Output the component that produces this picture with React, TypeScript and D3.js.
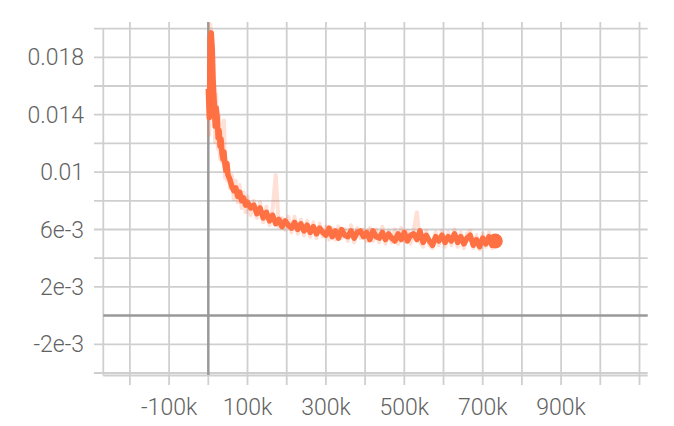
import React from "react";
import * as d3 from "d3";

const STEPS_K = [
  0, 2.5, 5, 7.5, 10, 12.5, 15, 17.5, 20, 22.5, 25, 27.5, 30, 32.5, 35, 37.5, 40, 42.5, 45, 47.5,
  50, 55, 60, 65, 70, 75, 80, 85, 90, 95, 100,
  108, 116, 124, 132, 140, 148, 156, 164, 172, 180, 188, 196, 204, 212, 220, 228, 236, 244, 252,
  260, 268, 276, 284, 292, 300, 308, 316, 324, 332, 340, 348, 356, 364, 372, 380, 388, 396, 404,
  412, 420, 428, 436, 444, 452, 460, 468, 476, 484, 492, 500, 508, 516, 524, 532, 540, 548, 556,
  564, 572, 580, 588, 596, 604, 612, 620, 628, 636, 644, 652, 660, 668, 676, 684, 692, 700, 708,
  716, 724, 732,
];

// smoothed values (x 1e-3)
const SMOOTHED_E3 = [
  15.8, 13.8, 19.4, 19.7, 18.6, 16.2, 14.9, 13.2, 14.5, 13.9, 12.4, 12.9, 11.8, 12.3, 11.3, 10.9, 11.4, 10.5, 10.1, 10.6,
  9.8, 9.5, 9.0, 8.7, 8.9, 8.3, 8.6, 8.0, 8.2, 7.7, 7.9,
  7.5, 7.7, 7.1, 7.5, 6.8, 7.2, 6.6, 7.0, 6.4, 6.7, 6.2, 6.6, 6.3, 6.1, 6.5, 6.0, 6.4, 5.9, 6.3,
  5.8, 6.2, 5.7, 6.1, 5.8, 5.6, 6.1, 5.5, 5.9, 5.4, 6.0, 5.6, 5.5, 5.9, 5.4, 5.8, 5.9, 5.5, 5.8,
  5.3, 5.9, 5.5, 5.4, 5.8, 5.3, 5.7, 5.4, 5.2, 5.7, 5.3, 5.8, 5.2, 5.6, 5.7, 5.3, 5.9, 5.1, 5.6,
  5.2, 4.9, 5.5, 5.2, 5.6, 5.1, 5.5, 5.2, 5.7, 5.1, 5.5, 5.0, 5.4, 5.6, 4.9, 5.3, 4.8, 5.4, 5.0,
  5.5, 4.9, 5.2,
];

// raw values (x 1e-3)
const RAW_E3 = [
  15.2, 12.6, 20.3, 19.0, 17.5, 15.0, 16.3, 12.1, 15.4, 12.8, 11.6, 13.9, 10.9, 13.4, 10.7, 11.9, 13.6, 9.6, 10.8, 9.4,
  10.6, 8.9, 9.8, 8.1, 9.4, 7.9, 9.1, 7.5, 8.6, 7.2, 8.3,
  7.0, 8.0, 6.8, 7.9, 6.5, 7.6, 6.3, 7.4, 9.8, 6.2, 6.8, 6.0, 6.9, 5.8, 6.9, 5.7, 6.7, 5.6, 6.6,
  5.5, 6.5, 5.4, 6.4, 5.5, 6.2, 5.3, 6.1, 5.3, 6.2, 5.4, 6.0, 5.2, 6.3, 5.1, 6.1, 5.4, 6.0, 5.2,
  6.1, 5.2, 6.0, 5.1, 6.2, 5.0, 5.9, 5.1, 6.0, 5.0, 6.1, 5.2, 5.9, 5.0, 6.0, 7.2, 5.1, 4.8, 5.9,
  4.9, 4.7, 5.8, 4.9, 5.9, 4.8, 5.8, 4.9, 6.0, 4.8, 5.8, 4.7, 5.7, 5.9, 4.7, 5.6, 4.6, 5.7, 4.8,
  5.8, 4.7, 5.4,
];

const X_GRID = [-200000, -100000, 0, 100000, 200000, 300000, 400000, 500000, 600000, 700000, 800000, 900000, 1000000, 1100000];
const X_LABEL_VALUES = [-100000, 100000, 300000, 500000, 700000, 900000];
const X_LABELS = ["-100k", "100k", "300k", "500k", "700k", "900k"];

const Y_GRID = [-0.004, -0.002, 0, 0.002, 0.004, 0.006, 0.008, 0.01, 0.012, 0.014, 0.016, 0.018, 0.02];
const Y_LABEL_VALUES = [0.018, 0.014, 0.01, 0.006, 0.002, -0.002];
const Y_LABELS = ["0.018", "0.014", "0.01", "6e-3", "2e-3", "-2e-3"];

const W = 674;
const H = 426;
const LEFT = 103.3;
const RIGHT = 647.7;
const TOP = 22;
const BOTTOM = 375.5;

const ORANGE = "#ff7043";
const GRID = "#cfcfcf";
const ZERO = "#999999";
const TEXT = "#626262";
const FONT = "Roboto, 'Helvetica Neue', Arial, sans-serif";

export default function App() {
  const x = d3.scaleLinear().domain([-267900, 1120900]).range([LEFT, RIGHT]);
  const y = d3.scaleLinear().domain([-0.004174, 0.02046]).range([BOTTOM, TOP]);

  const smoothed = STEPS_K.map((s, i) => [s * 1000, SMOOTHED_E3[i] / 1000] as [number, number]);
  const raw = STEPS_K.map((s, i) => [s * 1000, RAW_E3[i] / 1000] as [number, number]);
  const line = d3
    .line<[number, number]>()
    .x((d) => x(d[0]))
    .y((d) => y(d[1]));
  const last = smoothed[smoothed.length - 1];

  return (
    <svg
      width={W}
      height={H}
      style={{ position: "absolute", left: 0, top: 0, background: "#fff" }}
    >
      {Y_GRID.map((v) =>
        v === 0 ? null : (
          <line key={"hy" + v} x1={94} x2={RIGHT} y1={y(v)} y2={y(v)} stroke={GRID} strokeWidth={1.8} />
        )
      )}
      {X_GRID.map((v) =>
        v === 0 ? null : (
          <line key={"vx" + v} x1={x(v)} x2={x(v)} y1={TOP} y2={385} stroke={GRID} strokeWidth={1.8} />
        )
      )}
      <line x1={LEFT} x2={LEFT} y1={TOP + 6} y2={BOTTOM} stroke={GRID} strokeWidth={1.8} />
      <line x1={LEFT} x2={RIGHT} y1={BOTTOM} y2={BOTTOM} stroke={GRID} strokeWidth={1.8} />
      <line x1={x(0)} x2={x(0)} y1={375} y2={385} stroke={GRID} strokeWidth={1.8} />
      <line x1={x(0)} x2={x(0)} y1={TOP} y2={375} stroke={ZERO} strokeWidth={2.5} />
      <line x1={LEFT} x2={RIGHT} y1={y(0)} y2={y(0)} stroke={ZERO} strokeWidth={2.5} />

      {Y_LABEL_VALUES.map((v, i) => (
        <text
          key={"yl" + v}
          x={84}
          y={y(v)}
          dy="0.35em"
          textAnchor="end"
          fontFamily={FONT}
          fontWeight={300}
          fontSize={23}
          fill={TEXT}
        >
          {Y_LABELS[i]}
        </text>
      ))}
      {X_LABEL_VALUES.map((v, i) => (
        <text
          key={"xl" + v}
          x={x(v)}
          y={407}
          dy="0.35em"
          textAnchor="middle"
          fontFamily={FONT}
          fontWeight={300}
          fontSize={23}
          fill={TEXT}
        >
          {X_LABELS[i]}
        </text>
      ))}

      <path d={line(raw) || ""} fill="none" stroke={ORANGE} strokeOpacity={0.22} strokeWidth={4} strokeLinejoin="round" />
      <path d={line(smoothed) || ""} fill="none" stroke={ORANGE} strokeWidth={5.5} strokeLinejoin="round" />
      <circle cx={x(last[0])} cy={y(last[1])} r={7.5} fill={ORANGE} />
    </svg>
  );
}
